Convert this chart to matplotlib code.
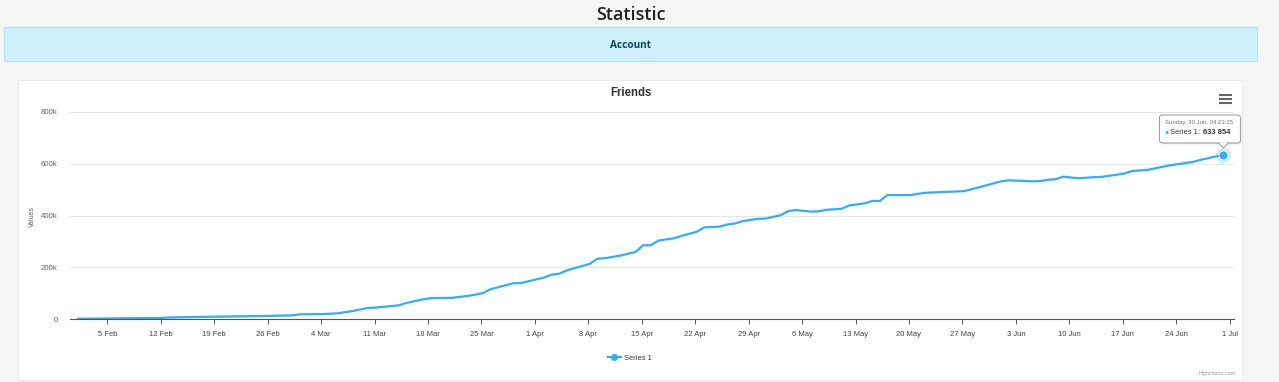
import matplotlib
matplotlib.use("Agg")
import matplotlib.pyplot as plt
import matplotlib.dates as mdates
from matplotlib.patches import Rectangle, FancyBboxPatch, Polygon
from matplotlib.ticker import FuncFormatter
import pandas as pd

# Data
dates = [
    "2024-02-01", "2024-02-05", "2024-02-08", "2024-02-12", "2024-02-13",
    "2024-02-19", "2024-02-26", "2024-02-29", "2024-03-01", "2024-03-04",
    "2024-03-06", "2024-03-08", "2024-03-10", "2024-03-11", "2024-03-14",
    "2024-03-15", "2024-03-17", "2024-03-18", "2024-03-21", "2024-03-23",
    "2024-03-24", "2024-03-25", "2024-03-26", "2024-03-29", "2024-03-30",
    "2024-04-02", "2024-04-03", "2024-04-04", "2024-04-05", "2024-04-08",
    "2024-04-09", "2024-04-10", "2024-04-12", "2024-04-14", "2024-04-15",
    "2024-04-16", "2024-04-17", "2024-04-19", "2024-04-20", "2024-04-22",
    "2024-04-23", "2024-04-25", "2024-04-26", "2024-04-27", "2024-04-28",
    "2024-04-30", "2024-05-01", "2024-05-03", "2024-05-04", "2024-05-05",
    "2024-05-07", "2024-05-08", "2024-05-09", "2024-05-11", "2024-05-12",
    "2024-05-14", "2024-05-15", "2024-05-16", "2024-05-17", "2024-05-20",
    "2024-05-22", "2024-05-27", "2024-05-29", "2024-06-01", "2024-06-02",
    "2024-06-05", "2024-06-06", "2024-06-07", "2024-06-08", "2024-06-09",
    "2024-06-11", "2024-06-13", "2024-06-14", "2024-06-17", "2024-06-18",
    "2024-06-20", "2024-06-23", "2024-06-26", "2024-06-27", "2024-06-29",
    "2024-06-30",
]
friends = [
    1000, 2000, 3000, 4000, 6000,
    9000, 12000, 14000, 18000, 19000,
    22000, 31000, 43000, 44000, 53000,
    62000, 75000, 80000, 82000, 89000,
    94000, 100000, 115000, 138000, 139000,
    160000, 171000, 175000, 188000, 213000,
    233000, 235000, 245000, 259000, 285000,
    285000, 303000, 312000, 321000, 337000,
    354000, 357000, 365000, 369000, 378000,
    387000, 388000, 401000, 417000, 421000,
    415000, 416000, 422000, 426000, 439000,
    447000, 456000, 456000, 479000, 479000,
    488000, 494000, 509000, 533000, 536000,
    532000, 533000, 538000, 540000, 550000,
    544000, 548000, 549000, 562000, 572000,
    576000, 594000, 607000, 615000, 628000,
    633854,
]
sample_time = "04:23:25"
series_name = "Series 1"
y_ticks = [0, 200000, 400000, 600000, 800000]

W, H = 1279, 382
BLUE = "#2caffe"
FONT = ["Liberation Sans", "DejaVu Sans"]


def main():
    plt.rcParams["font.family"] = FONT
    x = pd.to_datetime([d + " " + sample_time for d in dates])

    fig = plt.figure(figsize=(W / 100, H / 100), dpi=100)
    fig.patch.set_facecolor("#f4f5f5")

    # page background, in pixel coords (y down)
    bg = fig.add_axes([0, 0, 1, 1], zorder=0)
    bg.set_xlim(0, W)
    bg.set_ylim(H, 0)
    bg.axis("off")
    bg.add_patch(Rectangle((4, 27), 1253, 34, facecolor="#cdf0fa",
                           edgecolor="#b5e4f1", lw=0.8))
    bg.add_patch(Rectangle((18, 80), 1224, 300, facecolor="white",
                           edgecolor="#e8e8e8", lw=0.6))
    bg.text(631, 15, "Statistic", ha="center", va="center", fontsize=13,
            family=["Open Sans", "DejaVu Sans"], fontweight="semibold",
            color="#222222")
    bg.text(631, 46, "Account", ha="center", va="center", fontsize=7.2,
            family=["Open Sans", "DejaVu Sans"], fontweight="bold",
            color="#0d4556")
    bg.text(631, 93, "Friends", ha="center", va="center", fontsize=8.3,
            fontweight="bold", color="#333333")
    for yy in (95, 99, 103):
        bg.plot([1219, 1232], [yy, yy], color="#666666", lw=1.5,
                solid_capstyle="butt")
    bg.text(32, 216, "Values", rotation=90, ha="center", va="center",
            fontsize=5, color="#666666")
    bg.text(1236, 374, "Highcharts.com", ha="right", va="center",
            fontsize=3.8, color="#999999")

    # plot area
    ax = fig.add_axes([70 / W, 1 - 319 / H, (1234 - 70) / W, (319 - 112) / H],
                      zorder=1)
    ax.set_facecolor("white")
    ax.plot(x, friends, color=BLUE, lw=1.6, zorder=3, label=series_name,
            solid_joinstyle="round")
    ax.set_xlim(pd.Timestamp("2024-01-31 02:40"), pd.Timestamp("2024-07-01 13:40"))
    ax.set_ylim(0, 800000)
    ax.set_yticks(y_ticks)
    ax.yaxis.set_major_formatter(
        FuncFormatter(lambda v, p: "0" if v == 0 else f"{v / 1000:.0f}k"))
    ax.xaxis.set_major_locator(mdates.WeekdayLocator(byweekday=mdates.MO))
    ax.xaxis.set_major_formatter(
        FuncFormatter(lambda v, p: f"{mdates.num2date(v).day} {mdates.num2date(v):%b}"))
    ax.grid(axis="y", color="#e6e6e6", lw=0.75)
    ax.set_axisbelow(True)
    for s in ("top", "right", "left"):
        ax.spines[s].set_visible(False)
    ax.spines["bottom"].set_color("#555555")
    ax.spines["bottom"].set_linewidth(0.8)
    ax.spines["bottom"].set_zorder(4)
    ax.tick_params(axis="y", length=0, pad=9, labelsize=5.6, labelcolor="#666666")
    ax.tick_params(axis="x", length=3.6, width=0.7, color="#555555", pad=5,
                   labelsize=5.5, labelcolor="#444444")

    # hovered last point
    ax.plot(x[-1], friends[-1], "o", ms=11, color=BLUE, alpha=0.25, mec="none",
            zorder=4, clip_on=False)
    ax.plot(x[-1], friends[-1], "o", ms=6.5, color=BLUE, mec="white", mew=0.6,
            zorder=5, clip_on=False)

    leg = ax.legend(loc="center", bbox_to_anchor=(630 / W, 1 - 358 / H),
                    bbox_transform=fig.transFigure, frameon=False, fontsize=5.4,
                    handlelength=1.7, handletextpad=0.5)
    leg.legend_handles[0].set_marker("o")
    leg.legend_handles[0].set_markersize(4)
    for t in leg.get_texts():
        t.set_color("#333333")

    # tooltip anchored to the last point (display pixels, y up)
    fg = fig.add_axes([0, 0, 1, 1], zorder=3)
    fg.set_xlim(0, W)
    fg.set_ylim(0, H)
    fg.axis("off")
    px, py = ax.transData.transform((mdates.date2num(x[-1]), friends[-1]))
    bw, bh = 81, 28
    bx0, by0 = px - 64, py + 12
    fg.add_patch(FancyBboxPatch((bx0 + 1.5, by0 - 1.5), bw, bh,
                                boxstyle="round,pad=0,rounding_size=3",
                                facecolor="#000000", alpha=0.08, lw=0))
    fg.add_patch(FancyBboxPatch((bx0, by0), bw, bh,
                                boxstyle="round,pad=0,rounding_size=3",
                                facecolor="white", edgecolor="#999999", lw=0.7))
    fg.add_patch(Polygon([[px - 5, by0 + 0.4], [px, by0 - 5], [px + 5, by0 + 0.4]],
                         closed=True, facecolor="white", edgecolor="none"))
    fg.plot([px - 5, px, px + 5], [by0, by0 - 5, by0], color="#999999", lw=0.7)
    stamp = x[-1]
    fg.text(bx0 + 6, by0 + 20, f"{stamp:%A}, {stamp.day} {stamp:%b}, {stamp:%H:%M:%S}",
            fontsize=4.3, color="#777777", va="center")
    fg.text(bx0 + 5, by0 + 10, "\u25cf", fontsize=5, color=BLUE, va="center")
    t1 = fg.text(bx0 + 11, by0 + 10, f"{series_name}: ", fontsize=5.4,
                 color="#333333", va="center")
    fig.canvas.draw()
    ext = t1.get_window_extent()
    val = f"{friends[-1]:,}".replace(",", " ")
    fg.text(ext.x1, by0 + 10, val, fontsize=5.4, fontweight="bold",
            color="#333333", va="center")

    fig.savefig("out.png", dpi=100)


if __name__ == "__main__":
    main()
